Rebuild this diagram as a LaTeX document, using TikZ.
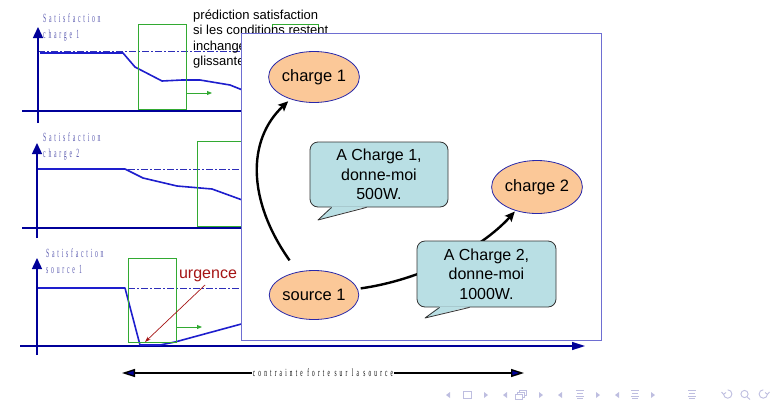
\documentclass[tikz,border=0pt]{standalone}
\usepackage{fontspec}
\setmainfont{Liberation Sans}
\newfontfamily\axisfont[FakeStretch=0.46,LetterSpace=22]{Liberation Serif}
\newfontfamily\ctfont[FakeStretch=0.48,LetterSpace=29]{Liberation Serif}
\usetikzlibrary{arrows.meta,shapes.geometric,calc}
\definecolor{navy}{RGB}{0,0,153}
\definecolor{dashblue}{RGB}{45,45,185}
\definecolor{curveblue}{RGB}{30,30,205}
\definecolor{grn}{RGB}{50,170,50}
\definecolor{boxblue}{RGB}{110,110,210}
\definecolor{peach}{RGB}{251,200,152}
\definecolor{ellblue}{RGB}{40,40,170}
\definecolor{bubble}{RGB}{185,223,228}
\definecolor{darkred}{RGB}{165,20,20}
\definecolor{axtitlecol}{RGB}{90,90,175}
\definecolor{navsym}{RGB}{190,190,224}
\tikzset{
  dashdot/.style={dashblue, line width=0.9pt, dash pattern=on 7pt off 2pt on 2pt off 2pt},
  curve/.style={curveblue, line width=1.6pt, line join=round},
  axisline/.style={navy, line width=1.4pt},
  yaxis/.style={navy, line width=1.4pt, -{Triangle[length=11pt,width=10pt]}},
  grnbox/.style={grn, line width=0.9pt},
  grnarrow/.style={grn, line width=0.9pt, -{Triangle[length=5pt,width=4pt]}},
  axtitlestyle/.style={text=axtitlecol, font=\axisfont\fontsize{12.5}{16}\selectfont, align=left, inner sep=0pt, anchor=base west},
  ell/.style={ellipse, draw=ellblue, fill=peach, line width=0.8pt, inner sep=0pt, font=\fontsize{16.5}{19}\selectfont},
  bubblebox/.style={rectangle, rounded corners=8pt, draw=black!80, fill=bubble, line width=0.8pt, align=center, font=\fontsize{16}{19.5}\selectfont},
  bigarrow/.style={black, line width=2.4pt, -{Stealth[length=10pt,width=9pt,inset=2pt]}},
  redarrow/.style={darkred, line width=0.7pt, -{Stealth[length=6pt,width=4pt]}},
  dblhead/.style={black, line width=1.4pt, -{Triangle[length=13pt,width=8pt,fill=navy]}},
  navline/.style={navsym, line width=0.9pt},
}
\begin{document}
\begin{tikzpicture}[x=1pt,y=-1pt]
\useasboundingbox (0,0) rectangle (778,405);
% ---------- panel 1
\draw[dashdot] (38,51) -- (245,51);
\draw[curve] (40,53) -- (123,53) -- (135,67) -- (162,81) -- (182,80) -- (200,80) -- (230,85) -- (245,91);
\draw[axisline] (22,111) -- (245,111);
\draw[yaxis] (38,123) -- (38,27);
\node[axtitlestyle] (t1) at (43,38) {Satisfaction\\charge 1};
\draw[grnbox] (138,24) rectangle (186,109);
\draw[grnarrow] (186,93) -- (212,93);
\draw[grnbox] (272,24) rectangle (318,60);
\node[anchor=north west, align=left, inner sep=0pt, font=\fontsize{13}{15.5}\selectfont] (pred) at (193,9.5)
  {prédiction satisfaction\\si les conditions restent\\inchangées\\glissantes};
% ---------- panel 2
\draw[dashdot] (37,169) -- (245,169);
\draw[curve] (37,169) -- (125,169) -- (143,178) -- (177,186) -- (212,189) -- (245,201);
\draw[axisline] (22,228) -- (245,228);
\draw[yaxis] (37,238) -- (37,143);
\node[axtitlestyle] (t2) at (43,157) {Satisfaction\\charge 2};
\draw[grnbox] (197,141) rectangle (260,226);
% ---------- panel 3
\draw[dashdot] (37,288) -- (245,288);
\draw[axisline, -{Triangle[length=13pt,width=8pt]}] (20,346) -- (585,346);
\draw[curve] (37,288) -- (125,288) -- (140,345) -- (160,345) -- (175,342) -- (245,323);
\draw[yaxis] (37,355) -- (37,258);
\node[axtitlestyle] (t3) at (46,273) {Satisfaction\\source 1};
\draw[grnbox] (128,258) rectangle (176,342);
\draw[grnarrow] (176,327) -- (202,327);
\node[text=darkred, inner sep=0pt, font=\fontsize{16}{19}\selectfont] (urg) at (208,276) {urgence};
\coordinate (urgtip) at (145,342);
\draw[redarrow, shorten <=4pt] (urg.south) -- (urgtip);
% ---------- big frame
\node[draw=boxblue, fill=white, line width=1pt, anchor=north west, minimum width=360pt, minimum height=307pt, inner sep=0pt] (frame) at (241,33) {};
\node[ell, minimum width=74pt, minimum height=51pt] (c1) at (314,77) {charge 1};
\node[ell, minimum width=73pt, minimum height=53pt] (c2) at (537,187) {charge 2};
\node[ell, minimum width=74pt, minimum height=49pt] (s1) at (314,295) {source 1};
\draw[bigarrow, shorten <=14pt, shorten >=3pt] (s1) .. controls (247,200) and (247,140) .. (c1);
\draw[bigarrow, shorten <=3pt, shorten >=1pt] (s1) .. controls (420,280) and (480,250) .. (c2);
% bubble 1
\node[bubblebox, minimum width=138pt, minimum height=65pt] (b1) at (379,174.5) {A Charge 1,\\donne-moi\\500W.};
\fill[bubble] ($(b1.south west)+(22,-1)$) -- (318,220) -- ($(b1.south west)+(57,-1)$) -- cycle;
\draw[black!80, line width=0.8pt, line join=round] ($(b1.south west)+(22,0)$) -- (318,220) -- ($(b1.south west)+(57,0)$);
% bubble 2
\node[bubblebox, minimum width=139pt, minimum height=66pt] (b2) at (486.5,274) {A Charge 2,\\donne-moi\\1000W.};
\fill[bubble] ($(b2.south west)+(23,-1)$) -- (425,318) -- ($(b2.south west)+(53,-1)$) -- cycle;
\draw[black!80, line width=0.8pt, line join=round] ($(b2.south west)+(23,0)$) -- (425,318) -- ($(b2.south west)+(53,0)$);
% ---------- bottom double arrow
\node[fill=white, inner sep=1pt, font=\ctfont\fontsize{11}{12}\selectfont] (ct) at (323,373) {contrainte forte sur la source};
\coordinate (ctl) at (122,373);
\coordinate (ctr) at (524,373);
\draw[dblhead] (ct.west) -- (ctl);
\draw[dblhead] (ct.east) -- (ctr);
% ---------- navigation symbols
\foreach \x in {448,505,560,617} \fill[navsym] (\x+2,398) -- (\x-2,395) -- (\x+2,392) -- cycle;
\foreach \x in {486,541,598,653} \fill[navsym] (\x-2,398) -- (\x+2,395) -- (\x-2,392) -- cycle;
\draw[navline] (463,391.5) rectangle (471,398);
\draw[navline] (519,390) rectangle (526,395.5);
\draw[navline, fill=white] (517,392) rectangle (524,397.5);
\draw[navline, fill=white] (515,394) rectangle (522,399.5);
\foreach \x in {580,635,692} {
  \draw[navline] (\x-4,390.5) -- (\x+4,390.5);
  \draw[navline] (\x-3,393.3) -- (\x+3,393.3);
  \draw[navline] (\x-4,396.1) -- (\x+4,396.1);
  \draw[navline] (\x-3,398.9) -- (\x+3,398.9);
}
\draw[navline] (723.5,394) arc[start angle=180, end angle=-90, radius=4.2];
\draw[navline] (721.5,392) -- (723.5,394.3) -- (726,392.5);
\draw[navline] (744.5,394) circle[radius=3.6];
\draw[navline] (747,396.8) -- (750,399.5);
\draw[navline] (767.5,394) arc[start angle=0, end angle=270, radius=4.2];
\draw[navline] (769.5,392) -- (767.5,394.3) -- (765,392.5);
\end{tikzpicture}
\end{document}
